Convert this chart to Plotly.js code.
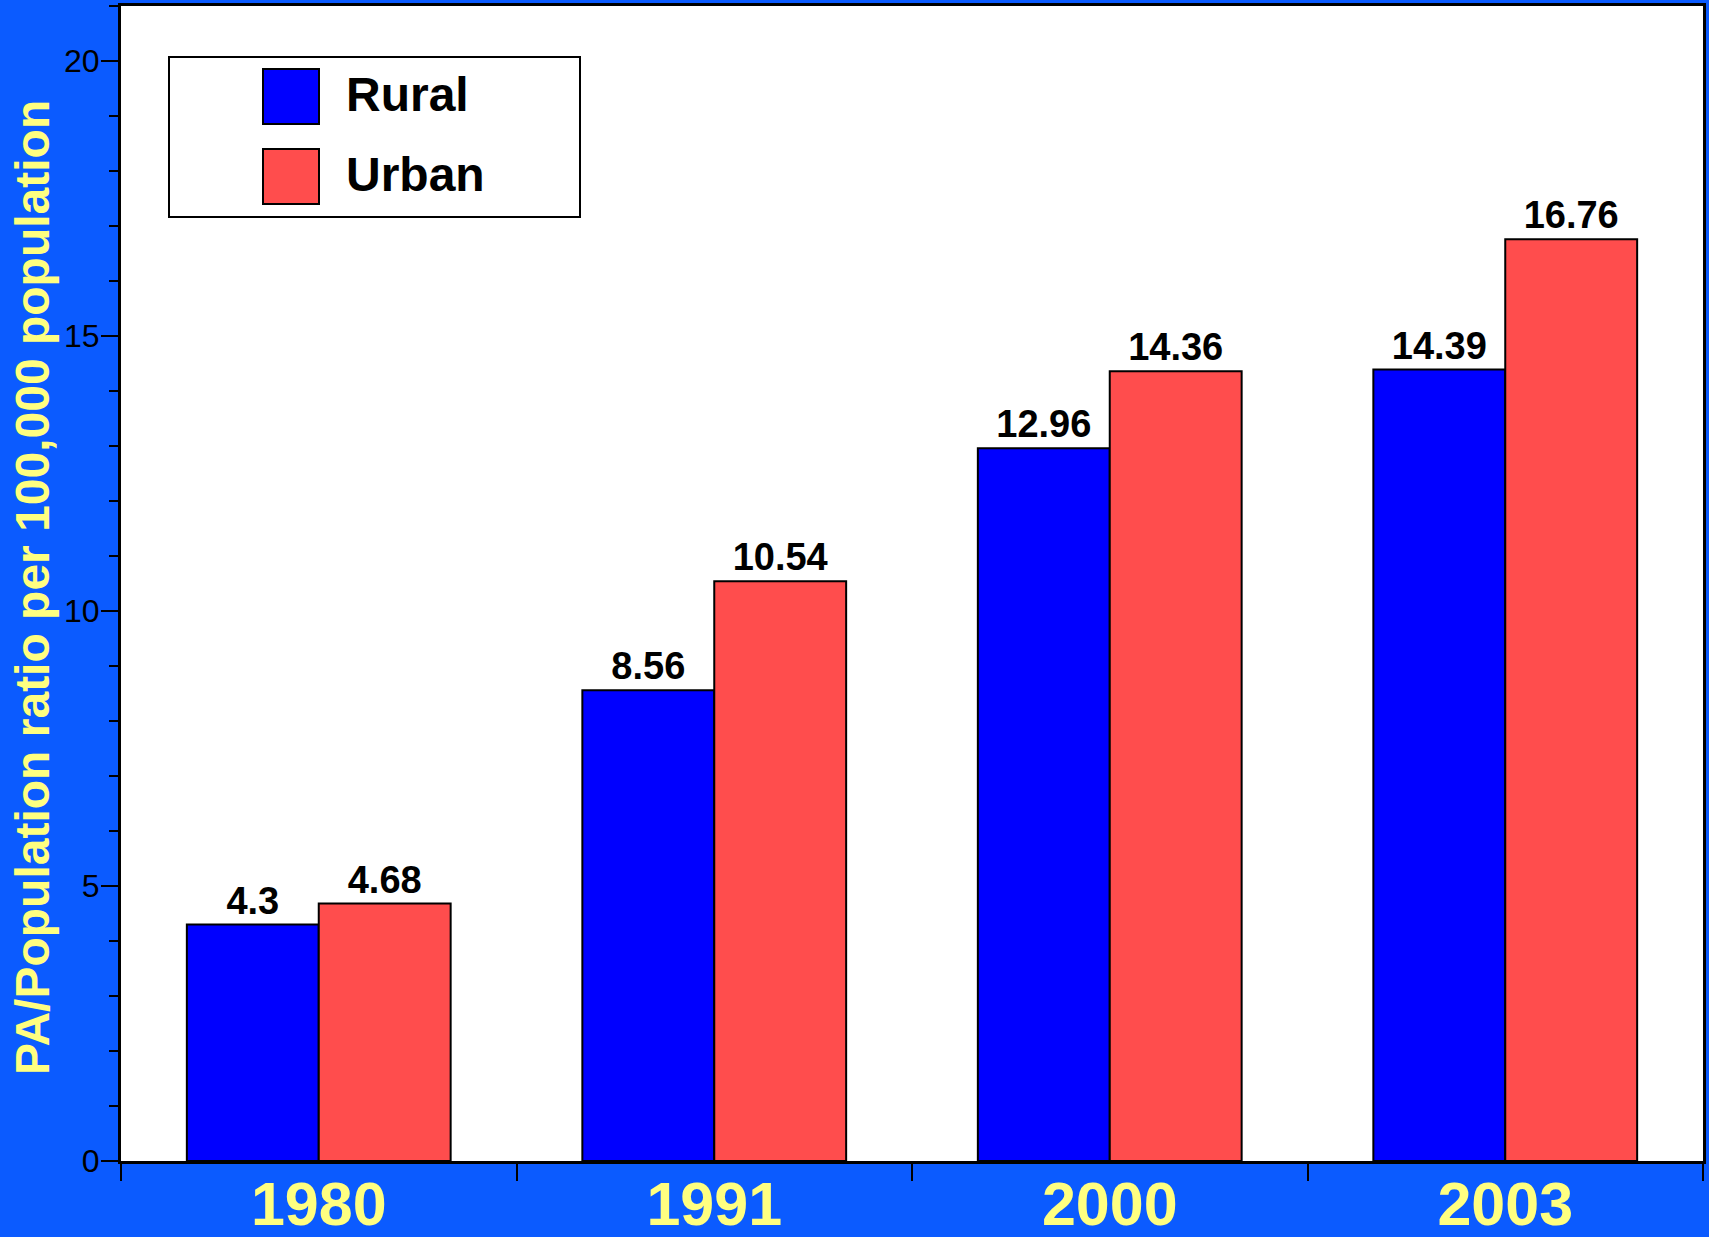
<!DOCTYPE html>
<html>
<head>
<meta charset="utf-8">
<script src="https://cdn.plot.ly/plotly-3.0.1.min.js"></script>
<style>html,body{margin:0;padding:0;background:#0B5BFF;}</style>
</head>
<body>
<div id="chart" style="width:1709px;height:1237px;"></div>
<script>
const categories = ['1980', '1991', '2000', '2003'];
const seriesNames = ['Rural', 'Urban'];
const rural = [4.3, 8.56, 12.96, 14.39];
const urban = [4.68, 10.54, 14.36, 16.76];
const seriesColors = ['#0000FF', '#FF4D4D'];
const yTitle = 'PA/Population ratio per 100,000 population';

const W = 1709, H = 1237;
const M = {l: 121, r: 6, t: 6, b: 76};
const PW = W - M.l - M.r, PH = H - M.t - M.b;
const px = x => (x - M.l) / PW;
const py = y => (H - M.b - y) / PH;

const FONT = 'Arial, "Liberation Sans", Helvetica, sans-serif';

function barTrace(name, vals, color) {
  return {
    type: 'bar', name: name, x: categories, y: vals,
    marker: {color: color, line: {color: '#000000', width: 2}},
    text: vals.map(v => String(v)), textposition: 'outside',
    textfont: {family: FONT, size: 38, color: '#000000', weight: 700},
    cliponaxis: false, hoverinfo: 'x+y+name'
  };
}

const data = [barTrace(seriesNames[0], rural, seriesColors[0]), barTrace(seriesNames[1], urban, seriesColors[1])];

// custom legend (large swatches)
const shapes = [
  {type: 'rect', xref: 'paper', yref: 'paper', x0: px(169), x1: px(580), y0: py(217), y1: py(57),
   line: {color: '#000000', width: 2}, fillcolor: '#FFFFFF', layer: 'above'},
];
const annotations = [];
const swY = [[69, 124], [149, 204]];
seriesNames.forEach((n, i) => {
  shapes.push({type: 'rect', xref: 'paper', yref: 'paper', x0: px(263), x1: px(319), y0: py(swY[i][1]), y1: py(swY[i][0]),
    line: {color: '#000000', width: 2}, fillcolor: seriesColors[i], layer: 'above'});
  annotations.push({xref: 'paper', yref: 'paper', x: px(344), y: py((swY[i][0] + swY[i][1]) / 2 - 2),
    xanchor: 'left', yanchor: 'middle', text: n, showarrow: false,
    font: {family: FONT, size: 48, color: '#000000', weight: 700}});
});
annotations.push({xref: 'paper', yref: 'paper', x: px(33), y: py(588), xanchor: 'center', yanchor: 'middle',
  textangle: -90, text: yTitle, showarrow: false,
  font: {family: FONT, size: 48, color: '#FFFF80', weight: 700}});

const layout = {
  width: W, height: H,
  margin: M,
  paper_bgcolor: '#0B5BFF', plot_bgcolor: '#FFFFFF',
  showlegend: false,
  barmode: 'group', bargap: 0.333, bargroupgap: 0,
  font: {family: FONT},
  xaxis: {
    type: 'category', tickson: 'boundaries', ticks: 'outside', ticklen: 17, tickwidth: 2, tickcolor: '#000000',
    showline: true, linecolor: '#000000', linewidth: 3, mirror: true, showgrid: false, zeroline: false,
    tickfont: {family: FONT, size: 61, color: '#FFFF80', weight: 700}, automargin: false,
    ticklabelstandoff: -12
  },
  yaxis: {
    range: [0, 21], dtick: 5, tick0: 0, ticks: 'outside', ticklen: 17, tickwidth: 2, tickcolor: '#000000',
    minor: {dtick: 1, ticks: 'outside', ticklen: 9, tickwidth: 2, tickcolor: '#000000'},
    showline: true, linecolor: '#000000', linewidth: 3, mirror: true, showgrid: false, zeroline: false,
    tickfont: {family: FONT, size: 32, color: '#000000'}, automargin: false,
    ticklabelstandoff: -5
  },
  shapes: shapes,
  annotations: annotations
};

Plotly.newPlot('chart', data, layout, {displayModeBar: false, staticPlot: true});
</script>
</body>
</html>
